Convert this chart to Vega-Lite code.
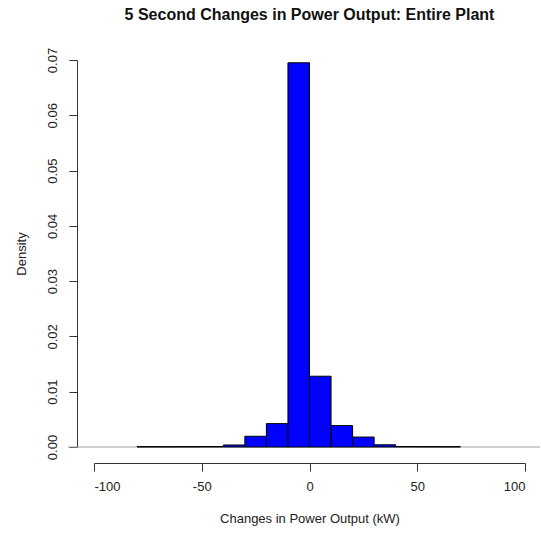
{
  "$schema": "https://vega.github.io/schema/vega-lite/v6.json",
  "autosize": "none",
  "width": 431,
  "height": 387,
  "padding": {"left": 94, "top": 60, "right": 16, "bottom": 87},
  "background": "white",
  "title": {
    "text": "5 Second Changes in Power Output: Entire Plant",
    "font": "Liberation Sans",
    "fontSize": 16,
    "fontWeight": "bold",
    "color": "#111111",
    "anchor": "middle",
    "offset": 24
  },
  "config": {
    "view": {"stroke": null},
    "axis": {
      "labelFont": "Liberation Sans",
      "titleFont": "Liberation Sans",
      "labelFontSize": 13,
      "titleFontSize": 13,
      "labelColor": "#222222",
      "titleColor": "#222222",
      "titleFontWeight": "normal",
      "domainColor": "#333333",
      "tickColor": "#333333",
      "grid": false,
      "tickSize": 8
    }
  },
  "data": {
    "values": [
      {"lo": -80, "hi": -70, "density": 0.00006},
      {"lo": -70, "hi": -60, "density": 0.00006},
      {"lo": -60, "hi": -50, "density": 0.00007},
      {"lo": -50, "hi": -40, "density": 0.00009},
      {"lo": -40, "hi": -30, "density": 0.00036},
      {"lo": -30, "hi": -20, "density": 0.00194},
      {"lo": -20, "hi": -10, "density": 0.00423},
      {"lo": -10, "hi": 0, "density": 0.0695},
      {"lo": 0, "hi": 10, "density": 0.0128},
      {"lo": 10, "hi": 20, "density": 0.00387},
      {"lo": 20, "hi": 30, "density": 0.0018},
      {"lo": 30, "hi": 40, "density": 0.0004},
      {"lo": 40, "hi": 50, "density": 0.00009},
      {"lo": 50, "hi": 60, "density": 0.00007},
      {"lo": 60, "hi": 70, "density": 0.00006}
    ]
  },
  "layer": [
    {
      "data": {"values": [{"a": -112, "b": 107, "y": 0}]},
      "mark": {"type": "rule", "color": "#a0a0a0", "strokeWidth": 1, "clip": false},
      "encoding": {
        "x": {"field": "a", "type": "quantitative"},
        "x2": {"field": "b"},
        "y": {"field": "y", "type": "quantitative"}
      }
    },
    {
      "mark": {"type": "rect", "color": "#0000FF", "stroke": "#000000", "strokeWidth": 1},
      "encoding": {
        "x": {
          "field": "lo",
          "type": "quantitative",
          "scale": {"domain": [-100, 100], "nice": false, "zero": false},
          "axis": {
            "values": [-100, -50, 0, 50, 100],
            "labelExpr": "datum.value < 0 ? '-' + abs(datum.value) : '' + datum.value",
            "offset": 16,
            "title": "Changes in Power Output (kW)",
            "labelPadding": 9,
            "titlePadding": 19
          }
        },
        "x2": {"field": "hi"},
        "y": {
          "field": "density",
          "type": "quantitative",
          "scale": {"domain": [0, 0.07], "nice": false},
          "axis": {
            "values": [0, 0.01, 0.02, 0.03, 0.04, 0.05, 0.06, 0.07],
            "format": ".2f",
            "offset": 17,
            "title": "Density",
            "labelAngle": -90,
            "labelAlign": "center",
            "labelBaseline": "bottom",
            "labelPadding": 10,
            "titlePadding": 18
          }
        },
        "y2": {"datum": 0}
      }
    }
  ]
}
